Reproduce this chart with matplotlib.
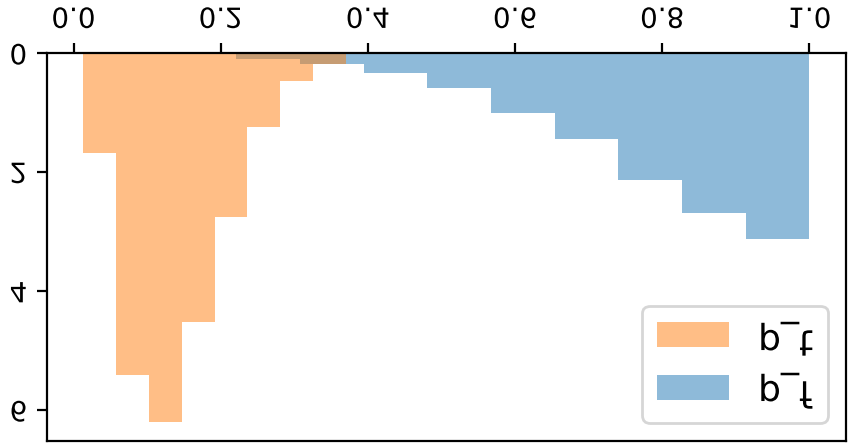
import matplotlib
matplotlib.use("Agg")
import matplotlib.pyplot as plt
import numpy as np
from matplotlib.patheffects import AbstractPathEffect
from matplotlib.transforms import Affine2D

# histogram densities (the picture is shown upside down)
p_t_edges = [0.0128, 0.0575, 0.1022, 0.1469, 0.1916, 0.2363, 0.2810, 0.3257, 0.3704]
p_t_density = [1.68, 5.41, 6.20, 4.52, 2.75, 1.23, 0.46, 0.18]

p_f_edges = [0.221, 0.3076, 0.3941, 0.4807, 0.5672, 0.6538, 0.7403, 0.8269, 0.9134, 1.0]
p_f_density = [0.095, 0.18, 0.334, 0.584, 1.00, 1.436, 2.127, 2.683, 3.117]

x_ticks = [0.0, 0.2, 0.4, 0.6, 0.8, 1.0]
y_ticks = [0, 2, 4, 6]


class Mirror(AbstractPathEffect):
    # flip each text vertically around its own middle
    def draw_path(self, renderer, gc, tpath, affine, rgbFace=None):
        ext = tpath.get_extents()
        flip = Affine2D().scale(1, -1).translate(0, ext.y0 + ext.y1)
        renderer.draw_path(gc, tpath, flip + affine, rgbFace)


fig = plt.figure(figsize=(4.25, 2.24), dpi=200)
ax = fig.add_axes([0.0549, 0.0163, 0.9400, 0.8647])

f_edges = np.array(p_f_edges)
t_edges = np.array(p_t_edges)
bars_f = ax.bar(f_edges[:-1], p_f_density, width=np.diff(f_edges), align='edge',
                color='C0', alpha=0.5, label='p_f')
bars_t = ax.bar(t_edges[:-1], p_t_density, width=np.diff(t_edges), align='edge',
                color='C1', alpha=0.5, label='p_t')

ax.invert_yaxis()
ax.xaxis.tick_top()
ax.set_xticks(x_ticks)
ax.set_yticks(y_ticks)

leg = ax.legend(handles=[bars_t, bars_f], loc='lower right', fontsize=13)

mirror = [Mirror()]
for t in ax.xaxis.get_major_ticks() + ax.yaxis.get_major_ticks():
    t.label1.set_path_effects(mirror)
    t.label2.set_path_effects(mirror)
for t in leg.get_texts():
    t.set_path_effects(mirror)

fig.savefig("out.png", dpi=200)
